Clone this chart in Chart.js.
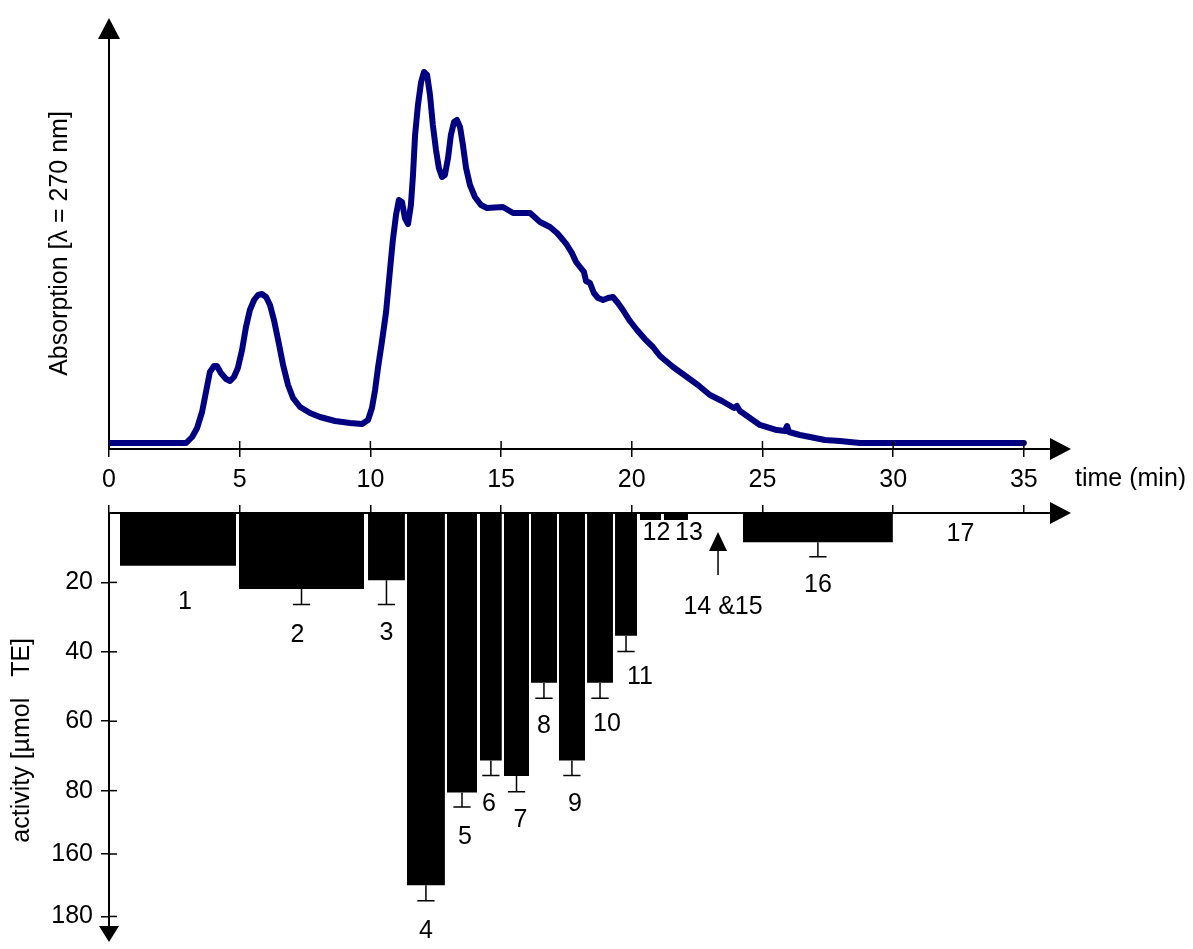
<!DOCTYPE html>
<html>
<head>
<meta charset="utf-8">
<script src="https://cdn.jsdelivr.net/npm/chart.js@4.4.1/dist/chart.umd.min.js"></script>
<style>
  html, body { margin: 0; padding: 0; background: #fff; }
  #wrap { position: relative; width: 1193px; height: 949px; }
  canvas { position: absolute; left: 0; }
  #top { top: 0; }
  #bottom { top: 490px; }
</style>
</head>
<body>
<div id="wrap">
  <canvas id="top" width="1193" height="490"></canvas>
  <canvas id="bottom" width="1193" height="459"></canvas>
</div>
<script>
// time axis (min)
const timeTicks = [0, 5, 10, 15, 20, 25, 30, 35];

// chromatogram trace, absorption in arbitrary units (0-100)
const traceTime = [0, 2.95, 3.18, 3.37, 3.56, 3.71, 3.86, 4.02, 4.13, 4.28, 4.48, 4.63, 4.78, 4.93,
  5.09, 5.24, 5.39, 5.55, 5.70, 5.85, 6.01, 6.16, 6.31, 6.47, 6.66, 6.85, 7.04, 7.31, 7.69, 8.07,
  8.65, 9.22, 9.68, 9.91, 10.06, 10.18, 10.29, 10.44, 10.60, 10.75, 10.86, 10.98, 11.09, 11.21,
  11.32, 11.44, 11.55, 11.63, 11.71, 11.82, 11.94, 12.05, 12.17, 12.28, 12.39, 12.51, 12.62, 12.74,
  12.85, 12.97, 13.08, 13.20, 13.31, 13.43, 13.54, 13.66, 13.81, 14.00, 14.23, 14.46, 15.07, 15.46,
  16.11, 16.49, 16.87, 17.14, 17.37, 17.52, 17.71, 17.87, 18.02, 18.17, 18.25, 18.40, 18.55, 18.71,
  18.90, 19.09, 19.28, 19.47, 19.66, 19.93, 20.20, 20.50, 20.81, 21.08, 21.58, 22.11, 22.53, 22.99,
  23.45, 23.91, 24.02, 24.14, 24.52, 24.90, 25.55, 25.86, 25.94, 26.01, 26.43, 26.82, 27.39, 27.96,
  28.73, 35];
const traceAbs = [1.46, 1.46, 2.92, 5.11, 9.00, 13.87, 18.73, 20.19, 20.19, 18.49, 17.03, 16.55, 17.52, 19.71,
  24.09, 29.68, 33.82, 36.25, 37.47, 37.71, 36.98, 35.04, 31.39, 26.52, 20.44, 15.57, 12.41, 10.22, 8.76, 7.79,
  6.81, 6.33, 6.08, 7.06, 9.98, 14.36, 19.71, 26.03, 33.33, 43.55, 50.85, 56.93, 60.58, 60.10,
  56.20, 54.74, 59.37, 66.67, 76.40, 83.70, 89.29, 91.73, 91.00, 86.13, 78.83, 72.75, 68.37, 66.18,
  66.67, 70.80, 76.40, 79.56, 80.05, 78.35, 73.97, 68.37, 64.23, 61.31, 59.37, 58.64, 58.88, 57.42,
  57.42, 55.23, 54.01, 52.55, 50.85, 49.64, 47.69, 45.50, 44.28, 43.07, 40.88, 40.39, 37.96, 36.74,
  36.25, 36.74, 36.98, 35.52, 33.82, 31.14, 28.95, 26.76, 24.82, 22.63, 19.95, 17.52, 15.57, 13.14,
  11.68, 9.98, 10.46, 9.25, 7.54, 5.84, 4.62, 4.38, 5.60, 4.14, 3.41, 2.92, 2.19, 1.95,
  1.46, 1.46];

// collected fractions and their antioxidant activity
const fractionNames = ['1', '2', '3', '4', '5', '6', '7', '8', '9', '10', '11', '12', '13', '16', '17'];
const fractionStart = [0.42, 4.97, 9.91, 11.40, 12.93, 14.19, 15.11, 16.14, 17.21, 18.29, 19.36, 20.31, 21.23, 24.25, 30.0];
const fractionEnd   = [4.86, 9.76, 11.32, 12.85, 14.08, 15.03, 16.07, 17.14, 18.21, 19.28, 20.20, 21.12, 22.15, 29.99, 35.0];
const activity      = [15.2, 21.9, 19.4, 170, 80.5, 71.3, 75.8, 48.9, 71.3, 48.9, 35.4, 2, 2, 8.4, 0];
const activityErr   = [0, 4.5, 7, 5, 4.2, 4.3, 4.5, 4.5, 4.3, 4.5, 4.5, 0, 0, 4.2, 0];
const activityTicks = [20, 40, 60, 80, 160, 180];
const pooledLabel = '14 &15';
const pooledTime = 23.3;

const FONT = '"Liberation Sans", Arial, Helvetica, sans-serif';
Chart.defaults.font.family = FONT;
Chart.defaults.font.size = 25;
Chart.defaults.color = '#000';

// pixel nudges for fraction numbers that sit beside their bar
const labelNudge = {
  '1': [7, 8], '2': [-4, 2], '4': [0, 2], '5': [3, 2], '6': [-2, 1], '7': [4, 0],
  '9': [3, 1], '10': [7, -2], '11': [14, -2], '12': [6, -15], '13': [13, -15], '17': [2, -7]
};

// broken activity axis: 0-85 linear, squeezed gap up to 160, then linear again
function squash(v) {
  if (v <= 85) return v;
  if (v < 160) return 85 + (v - 85) * (13.25 / 75);
  return 98.25 + (v - 160) * 0.9;
}
function unsquash(d) {
  if (d <= 85) return d;
  if (d < 98.25) return 85 + (d - 85) * (75 / 13.25);
  return 160 + (d - 98.25) / 0.9;
}
class BrokenLinearScale extends Chart.LinearScale {
  getPixelForValue(value) { return super.getPixelForValue(squash(value)); }
  getValueForPixel(pixel) { return unsquash(super.getValueForPixel(pixel)); }
}
BrokenLinearScale.id = 'brokenLinear';
BrokenLinearScale.defaults = Chart.LinearScale.defaults;
Chart.register(BrokenLinearScale);

function triangle(ctx, pts) {
  ctx.beginPath();
  ctx.moveTo(pts[0][0], pts[0][1]);
  ctx.lineTo(pts[1][0], pts[1][1]);
  ctx.lineTo(pts[2][0], pts[2][1]);
  ctx.closePath();
  ctx.fill();
}

// arrows, inner tick halves and the time label for the chromatogram
const topDeco = {
  id: 'topDeco',
  afterDraw(chart) {
    const { ctx, chartArea: a, scales: { x } } = chart;
    ctx.save();
    ctx.fillStyle = '#000';
    ctx.strokeStyle = '#000';
    ctx.lineWidth = 1.5;
    timeTicks.forEach(t => {
      const px = x.getPixelForValue(t);
      if (t === 0) return;
      ctx.beginPath();
      ctx.moveTo(px, a.bottom);
      ctx.lineTo(px, a.bottom - 8);
      ctx.stroke();
    });
    triangle(ctx, [[a.left, a.top - 20], [a.left - 11, a.top + 1], [a.left + 11, a.top + 1]]);
    triangle(ctx, [[a.right + 21, a.bottom], [a.right, a.bottom - 11], [a.right, a.bottom + 11]]);
    ctx.font = '25px ' + FONT;
    ctx.textAlign = 'left';
    ctx.textBaseline = 'middle';
    ctx.fillText('time (min)', a.right + 25, a.bottom + 30);
    ctx.restore();
  }
};

// fraction numbers, pooled-fraction arrow and axis arrows for the activity panel
const bottomDeco = {
  id: 'bottomDeco',
  afterDraw(chart) {
    const { ctx, chartArea: a, scales: { x, y } } = chart;
    ctx.save();
    ctx.fillStyle = '#000';
    ctx.strokeStyle = '#000';
    ctx.lineWidth = 1.5;
    activityTicks.forEach(v => {
      const py = y.getPixelForValue(v);
      ctx.beginPath();
      ctx.moveTo(a.left, py);
      ctx.lineTo(a.left + 8, py);
      ctx.stroke();
    });
    triangle(ctx, [[a.right + 21, a.top], [a.right, a.top - 11], [a.right, a.top + 11]]);
    triangle(ctx, [[a.left, a.bottom + 16], [a.left - 10, a.bottom], [a.left + 10, a.bottom]]);

    ctx.font = '25px ' + FONT;
    ctx.textAlign = 'center';
    ctx.textBaseline = 'middle';
    fractionNames.forEach((name, i) => {
      const nudge = labelNudge[name] || [0, 0];
      const cx = x.getPixelForValue((fractionStart[i] + fractionEnd[i]) / 2);
      const py = y.getPixelForValue(activity[i] + activityErr[i]);
      ctx.fillText(name, cx + nudge[0], py + 28 + nudge[1]);
    });

    const ax = x.getPixelForValue(pooledTime);
    ctx.beginPath();
    ctx.moveTo(ax, a.top + 36);
    ctx.lineTo(ax, a.top + 62);
    ctx.stroke();
    triangle(ctx, [[ax, a.top + 19], [ax - 9, a.top + 38], [ax + 9, a.top + 38]]);
    ctx.fillText(pooledLabel, ax + 5, a.top + 94);
    ctx.restore();
  }
};

function timeAxis(extra) {
  return Object.assign({
    type: 'linear',
    min: 0,
    max: 36,
    afterBuildTicks: s => { s.ticks = timeTicks.map(v => ({ value: v })); },
    grid: { display: true, drawOnChartArea: false, drawTicks: true, tickLength: 8, color: '#000', lineWidth: 1.5 },
    border: { display: true, color: '#000', width: 2 }
  }, extra);
}

// top panel: chromatogram
new Chart(document.getElementById('top'), {
  type: 'line',
  data: {
    datasets: [{
      data: traceTime.map((t, i) => ({ x: t, y: traceAbs[i] })),
      borderColor: '#000080',
      borderWidth: 6,
      borderJoinStyle: 'round',
      borderCapStyle: 'round',
      pointRadius: 0,
      tension: 0,
      fill: false
    }]
  },
  options: {
    responsive: false,
    animation: false,
    events: [],
    layout: { padding: { top: 38, right: 143, bottom: 0, left: 0 } },
    plugins: { legend: { display: false }, tooltip: { enabled: false } },
    scales: {
      x: timeAxis({
        afterFit: s => { s.height = 41; },
        ticks: { padding: 8, maxRotation: 0, autoSkip: false, color: '#000', font: { size: 25 } }
      }),
      y: {
        min: 0,
        max: 100,
        afterFit: s => { s.width = 109; },
        ticks: { display: false },
        grid: { display: false, drawTicks: false },
        border: { display: true, color: '#000', width: 2 },
        title: { display: true, text: 'Absorption [λ = 270 nm]', color: '#000', font: { size: 25 }, padding: { top: 45, bottom: 0 } }
      }
    }
  },
  plugins: [topDeco]
});

// bottom panel: activity of the fractions, drawn downwards
const barSets = fractionNames.map((name, i) => ({
  label: name,
  data: [
    { x: fractionStart[i], y: 0 },
    { x: fractionStart[i], y: activity[i] },
    { x: fractionEnd[i], y: activity[i] },
    { x: fractionEnd[i], y: 0 }
  ],
  borderWidth: 0,
  borderColor: '#000',
  backgroundColor: '#000',
  pointRadius: 0,
  tension: 0,
  fill: 'origin'
}));

const errPoints = [];
fractionNames.forEach((name, i) => {
  if (!activityErr[i]) return;
  const c = (fractionStart[i] + fractionEnd[i]) / 2;
  const end = activity[i] + activityErr[i];
  errPoints.push({ x: c, y: activity[i] }, { x: c, y: end }, { x: c, y: null });
  errPoints.push({ x: c - 0.33, y: end }, { x: c + 0.33, y: end }, { x: c, y: null });
});

new Chart(document.getElementById('bottom'), {
  type: 'line',
  data: {
    datasets: barSets.concat([{
      label: 'error',
      data: errPoints,
      borderColor: '#000',
      borderWidth: 1.5,
      pointRadius: 0,
      tension: 0,
      fill: false,
      spanGaps: false
    }])
  },
  options: {
    responsive: false,
    animation: false,
    events: [],
    layout: { padding: { top: 10, right: 143, bottom: 17, left: 0 } },
    plugins: { legend: { display: false }, tooltip: { enabled: false } },
    scales: {
      x: timeAxis({
        position: 'top',
        afterFit: s => { s.height = 8; },
        ticks: { display: false }
      }),
      y: {
        type: 'brokenLinear',
        reverse: true,
        min: 0,
        max: 119,
        afterBuildTicks: s => { s.ticks = activityTicks.map(v => ({ value: v })); },
        afterFit: s => { s.width = 109; },
        ticks: { padding: 8, color: '#000', font: { size: 25 }, callback: v => String(v) },
        grid: { display: true, drawOnChartArea: false, drawTicks: true, tickLength: 8, color: '#000', lineWidth: 1.5 },
        border: { display: true, color: '#000', width: 2 },
        title: { display: true, text: 'activity [µmol   TE]      ', color: '#000', font: { size: 25 }, padding: { top: 7, bottom: 0 } }
      }
    }
  },
  plugins: [bottomDeco]
});
</script>
</body>
</html>
